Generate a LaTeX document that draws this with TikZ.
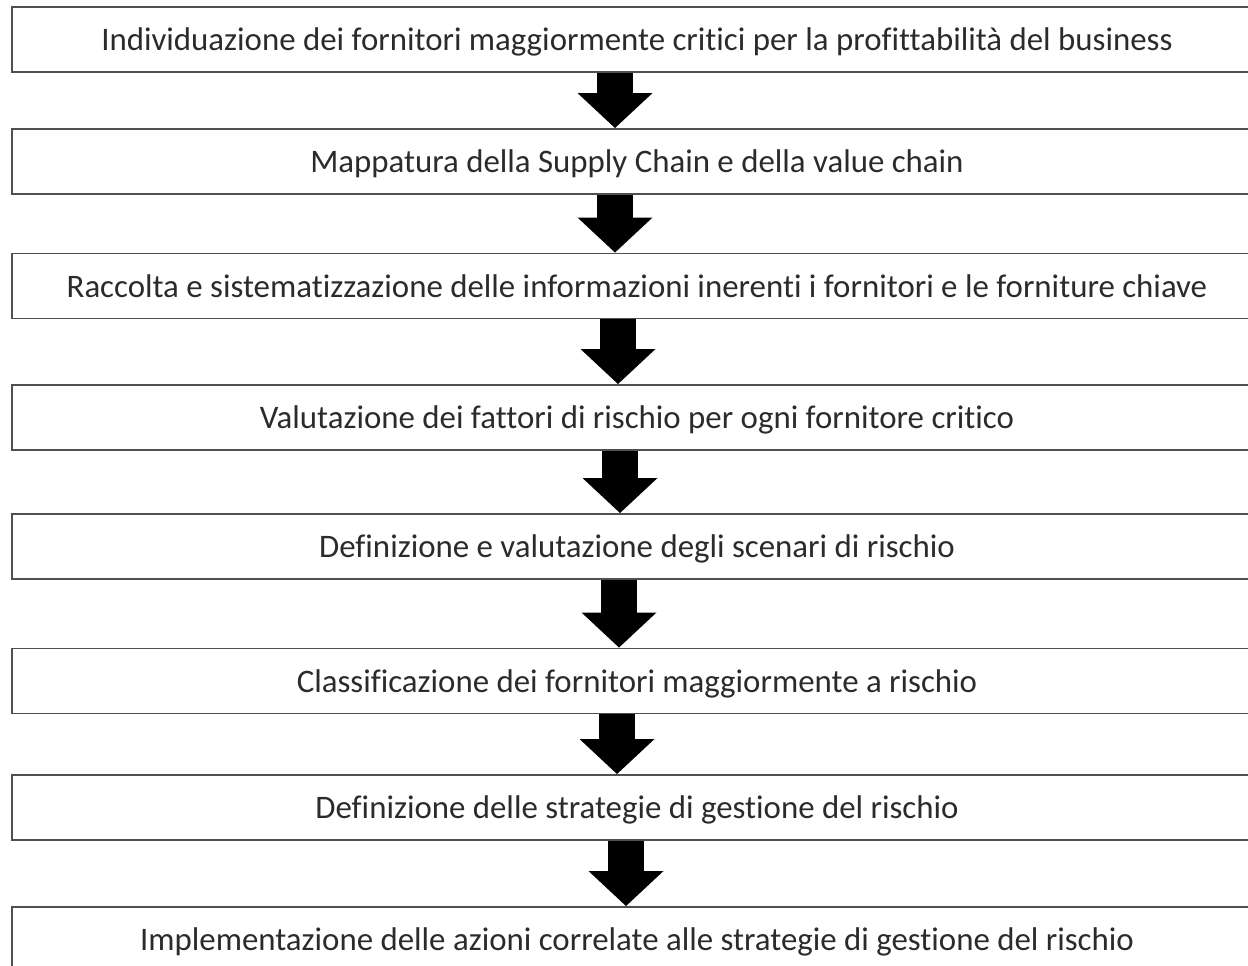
\documentclass[tikz,border=0pt]{standalone}
\usepackage{fontspec}
\setmainfont{Carlito}[Ligatures=NoCommon]
\usetikzlibrary{arrows.meta}

\definecolor{bordo}{HTML}{505050}
\definecolor{testo}{HTML}{2B2B2B}

\tikzset{
  fase/.style={draw=bordo, line width=1.1pt, minimum width=25cm, minimum height=1.3cm,
    inner sep=0pt, text depth=0pt, text=testo, font=\fontsize{18.7}{22}\selectfont},
  freccia/.style={line width=0.72cm, -{Triangle[width=1.5cm,length=0.7cm,line width=0pt]}}
}

\begin{document}
\begin{tikzpicture}

\useasboundingbox (0,0) rectangle (24.96,-19.32);

% boxes
\node[fase] (f1) at (12.74,-0.79) {Individuazione dei fornitori maggiormente critici per la profittabilità del business};
\node[fase] (f2) at (12.74,-3.23) {Mappatura della Supply Chain e della value chain};
\node[fase] (f3) at (12.74,-5.72) {Raccolta e sistematizzazione delle informazioni inerenti i fornitori e le forniture chiave};
\node[fase] (f4) at (12.74,-8.35) {Valutazione dei fattori di rischio per ogni fornitore critico};
\node[fase] (f5) at (12.74,-10.93) {Definizione e valutazione degli scenari di rischio};
\node[fase] (f6) at (12.74,-13.62) {Classificazione dei fornitori maggiormente a rischio};
\node[fase] (f7) at (12.74,-16.15) {Definizione delle strategie di gestione del rischio};
\node[fase] (f8) at (12.74,-18.79) {Implementazione delle azioni correlate alle strategie di gestione del rischio};

% arrows
\draw[freccia] ([xshift=-0.44cm]f1.south) -- ([xshift=-0.44cm]f2.north);
\draw[freccia] ([xshift=-0.44cm]f2.south) -- ([xshift=-0.44cm]f3.north);
\draw[freccia] ([xshift=-0.38cm]f3.south) -- ([xshift=-0.38cm]f4.north);
\draw[freccia] ([xshift=-0.34cm]f4.south) -- ([xshift=-0.34cm]f5.north);
\draw[freccia] ([xshift=-0.36cm]f5.south) -- ([xshift=-0.36cm]f6.north);
\draw[freccia] ([xshift=-0.40cm]f6.south) -- ([xshift=-0.40cm]f7.north);
\draw[freccia] ([xshift=-0.22cm]f7.south) -- ([xshift=-0.22cm]f8.north);

\end{tikzpicture}
\end{document}
